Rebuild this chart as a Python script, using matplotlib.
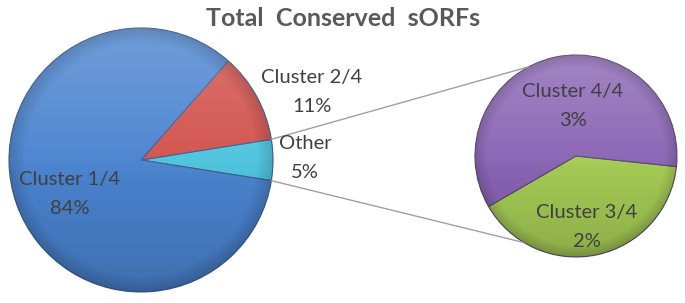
import matplotlib.pyplot as plt
import numpy as np

# data
main_labels = ["Other", "Cluster 2/4", "Cluster 1/4"]
main_values = [5, 11, 84]
main_colors = ["#4cc3dd", "#d2504b", "#4a83cf"]

sub_labels = ["Cluster 3/4", "Cluster 4/4"]
sub_values = [2, 3]
sub_colors = ["#a6cc55", "#8a64b4"]

W, H = 685, 303
fig = plt.figure(figsize=(W / 100, H / 100), dpi=100)
ax = fig.add_axes([0, 0, 1, 1])
plt.rcParams["font.family"] = ["Lato", "DejaVu Sans"]

main_center = (141, H - 160)
main_r = 132
sub_center = (576, H - 156)
sub_r = 101


def shade(wedges, center, r):
    """Soft top-light / bottom-dark gradient over each wedge."""
    n = 200
    yy, xx = np.mgrid[-1:1:n * 1j, -1:1:n * 1j]
    d = np.sqrt(xx ** 2 + yy ** 2)
    light = np.clip(0.18 * (yy + 0.2), 0, 1)
    rim = np.clip((d - 0.88) * 4.0, 0, 1) * 0.3
    bottom = np.clip(-0.15 * yy, 0, 1)
    rgba = np.zeros((n, n, 4))
    rgba[..., :3] = 1.0
    rgba[..., 3] = light
    dark = np.zeros((n, n, 4))
    dark[..., 3] = np.clip(rim + bottom, 0, 1)
    ext = [center[0] - r, center[0] + r, center[1] - r, center[1] + r]
    for w in wedges:
        for img in (rgba, dark):
            im = ax.imshow(img, extent=ext, origin="lower", zorder=3)
            im.set_clip_path(w)


wedges, _ = ax.pie(
    main_values,
    colors=main_colors,
    startangle=-main_values[0] / 100 * 180,
    center=main_center,
    radius=main_r,
    wedgeprops=dict(edgecolor="#3d5f8f", linewidth=0.8),
)
shade(wedges, main_center, main_r)

sub_wedges, _ = ax.pie(
    sub_values,
    colors=sub_colors,
    startangle=-150,
    center=sub_center,
    radius=sub_r,
    wedgeprops=dict(edgecolor="#5a4a70", linewidth=0.8),
)
shade(sub_wedges, sub_center, sub_r)

# connector lines from the "Other" slice to the second pie
other = wedges[0]
for a_main, a_sub in [(other.theta2, 118), (other.theta1, -121)]:
    x0 = main_center[0] + main_r * np.cos(np.radians(a_main))
    y0 = main_center[1] + main_r * np.sin(np.radians(a_main))
    x1 = sub_center[0] + sub_r * np.cos(np.radians(a_sub))
    y1 = sub_center[1] + sub_r * np.sin(np.radians(a_sub))
    ax.plot([x0, x1], [y0, y1], color="#a0a0a0", lw=1.0, zorder=1)

txt = dict(ha="center", va="center", fontsize=14.5, color="#404040",
           linespacing=1.85, zorder=5)
label_pos = {"Cluster 1/4": (70, H - 194), "Cluster 2/4": (312, H - 92),
             "Other": (305, H - 158)}
for name, val in zip(main_labels, main_values):
    ax.text(*label_pos[name], f"{name}\n{val}%", **txt)
sub_pos = {"Cluster 3/4": (587, H - 227), "Cluster 4/4": (573, H - 106)}
for name, val in zip(sub_labels, sub_values):
    ax.text(*sub_pos[name], f"{name}\n{val}%", **txt)

ax.text(W / 2 + 1, H - 18, "Total  Conserved  sORFs", ha="center", va="center",
        fontsize=18, fontweight="bold", color="#595959")

ax.set_xlim(0, W)
ax.set_ylim(0, H)
ax.set_aspect("auto")
ax.axis("off")
fig.savefig("out.png", dpi=100)
